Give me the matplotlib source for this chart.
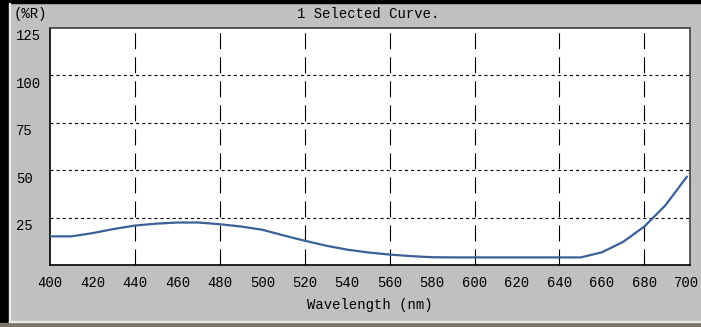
import numpy as np
import matplotlib
matplotlib.use("Agg")
import matplotlib.pyplot as plt
import matplotlib.transforms as mtransforms
from matplotlib.patches import Rectangle

# reflectance curve
wavelength = [400, 410, 420, 430, 440, 450, 460, 470, 480, 490, 500, 510, 520, 530,
              540, 550, 560, 570, 580, 590, 600, 610, 620, 630, 640, 650, 660, 670,
              680, 690, 700]
reflect = [15.1, 15.1, 16.8, 19.0, 20.8, 21.8, 22.4, 22.4, 21.5, 20.3, 18.6, 15.6, 12.8, 10.2,
           8.1, 6.6, 5.5, 4.7, 4.1, 4.0, 4.0, 4.0, 4.0, 4.0, 4.0, 4.0, 6.7, 12.2,
           20.3, 31.6, 46.5]

x_ticks = list(range(400, 701, 20))
y_ticks = [25, 50, 75, 100, 125]
v_grid = [440, 480, 520, 560, 600, 640, 680]
h_grid = [25, 50, 75, 100]

W, H = 701, 327
bg = "#c0c0c0"
mono = "Liberation Mono"

plt.rcParams["lines.scale_dashes"] = False
fig = plt.figure(figsize=(W / 100, H / 100), dpi=100, facecolor=bg)

# window frame
fig.patches.append(Rectangle((0, 0), 8 / W, 1, transform=fig.transFigure, color="black", zorder=0))
fig.patches.append(Rectangle((0, 1 - 3 / H), 1, 3 / H, transform=fig.transFigure, color="black", zorder=0))
fig.patches.append(Rectangle((9 / W, 0), 1.2 / W, 1 - 3 / H, transform=fig.transFigure, color="#e8e8e8", zorder=0))
fig.patches.append(Rectangle((0, 0), 1, 4 / H, transform=fig.transFigure, color="#7d7667", zorder=0))
fig.patches.append(Rectangle((9 / W, 5 / H), 1, 1.2 / H, transform=fig.transFigure, color="#e8e8e8", zorder=0))

ax = fig.add_axes([50 / W, (H - 265) / H, 640 / W, 237 / H])
ax.set_facecolor("white")

for xv in v_grid:
    ax.axvline(xv, color="black", lw=0.8, linestyle=(0, (11.5, 5.8)), zorder=1)
for yv in h_grid:
    ax.axhline(yv, color="black", lw=0.8, linestyle=(0, (2.2, 2.2)), zorder=1)

ax.plot(wavelength, reflect, color="#3b6096", lw=1.6, zorder=3)

ax.set_xlim(400, 701.5)
ax.set_ylim(0, 125)

ax.set_xticks(x_ticks)
ax.set_xticklabels([str(t) for t in x_ticks], fontsize=10, family=mono)
ax.set_xticks(list(range(400, 701, 40)), minor=True)
ax.tick_params(axis="x", which="major", length=0, pad=8)
ax.tick_params(axis="x", which="minor", length=4, width=1, color="black", direction="out")

ax.set_yticks(y_ticks)
ax.set_yticklabels([str(t) for t in y_ticks], fontsize=10, family=mono, ha="left")
ax.tick_params(axis="y", length=0, pad=24.5)
offset = mtransforms.ScaledTranslation(0, -7 / 100, fig.dpi_scale_trans)
for lab in ax.get_yticklabels():
    lab.set_transform(lab.get_transform() + offset)

for side in ["left", "bottom"]:
    ax.spines[side].set_color("black")
    ax.spines[side].set_linewidth(1.2)
for side in ["top", "right"]:
    ax.spines[side].set_color("#404040")
    ax.spines[side].set_linewidth(1.2)

ax.set_xlabel("Wavelength (nm)", fontsize=10, family=mono, labelpad=6)
fig.text(368 / W, 1 - 14 / H, "1 Selected Curve.", ha="center", va="center",
         fontsize=10, family=mono)
fig.text(14 / W, 1 - 14 / H, "(%R)", ha="left", va="center", fontsize=10, family=mono)

fig.savefig("out.png", dpi=100, facecolor=bg)
